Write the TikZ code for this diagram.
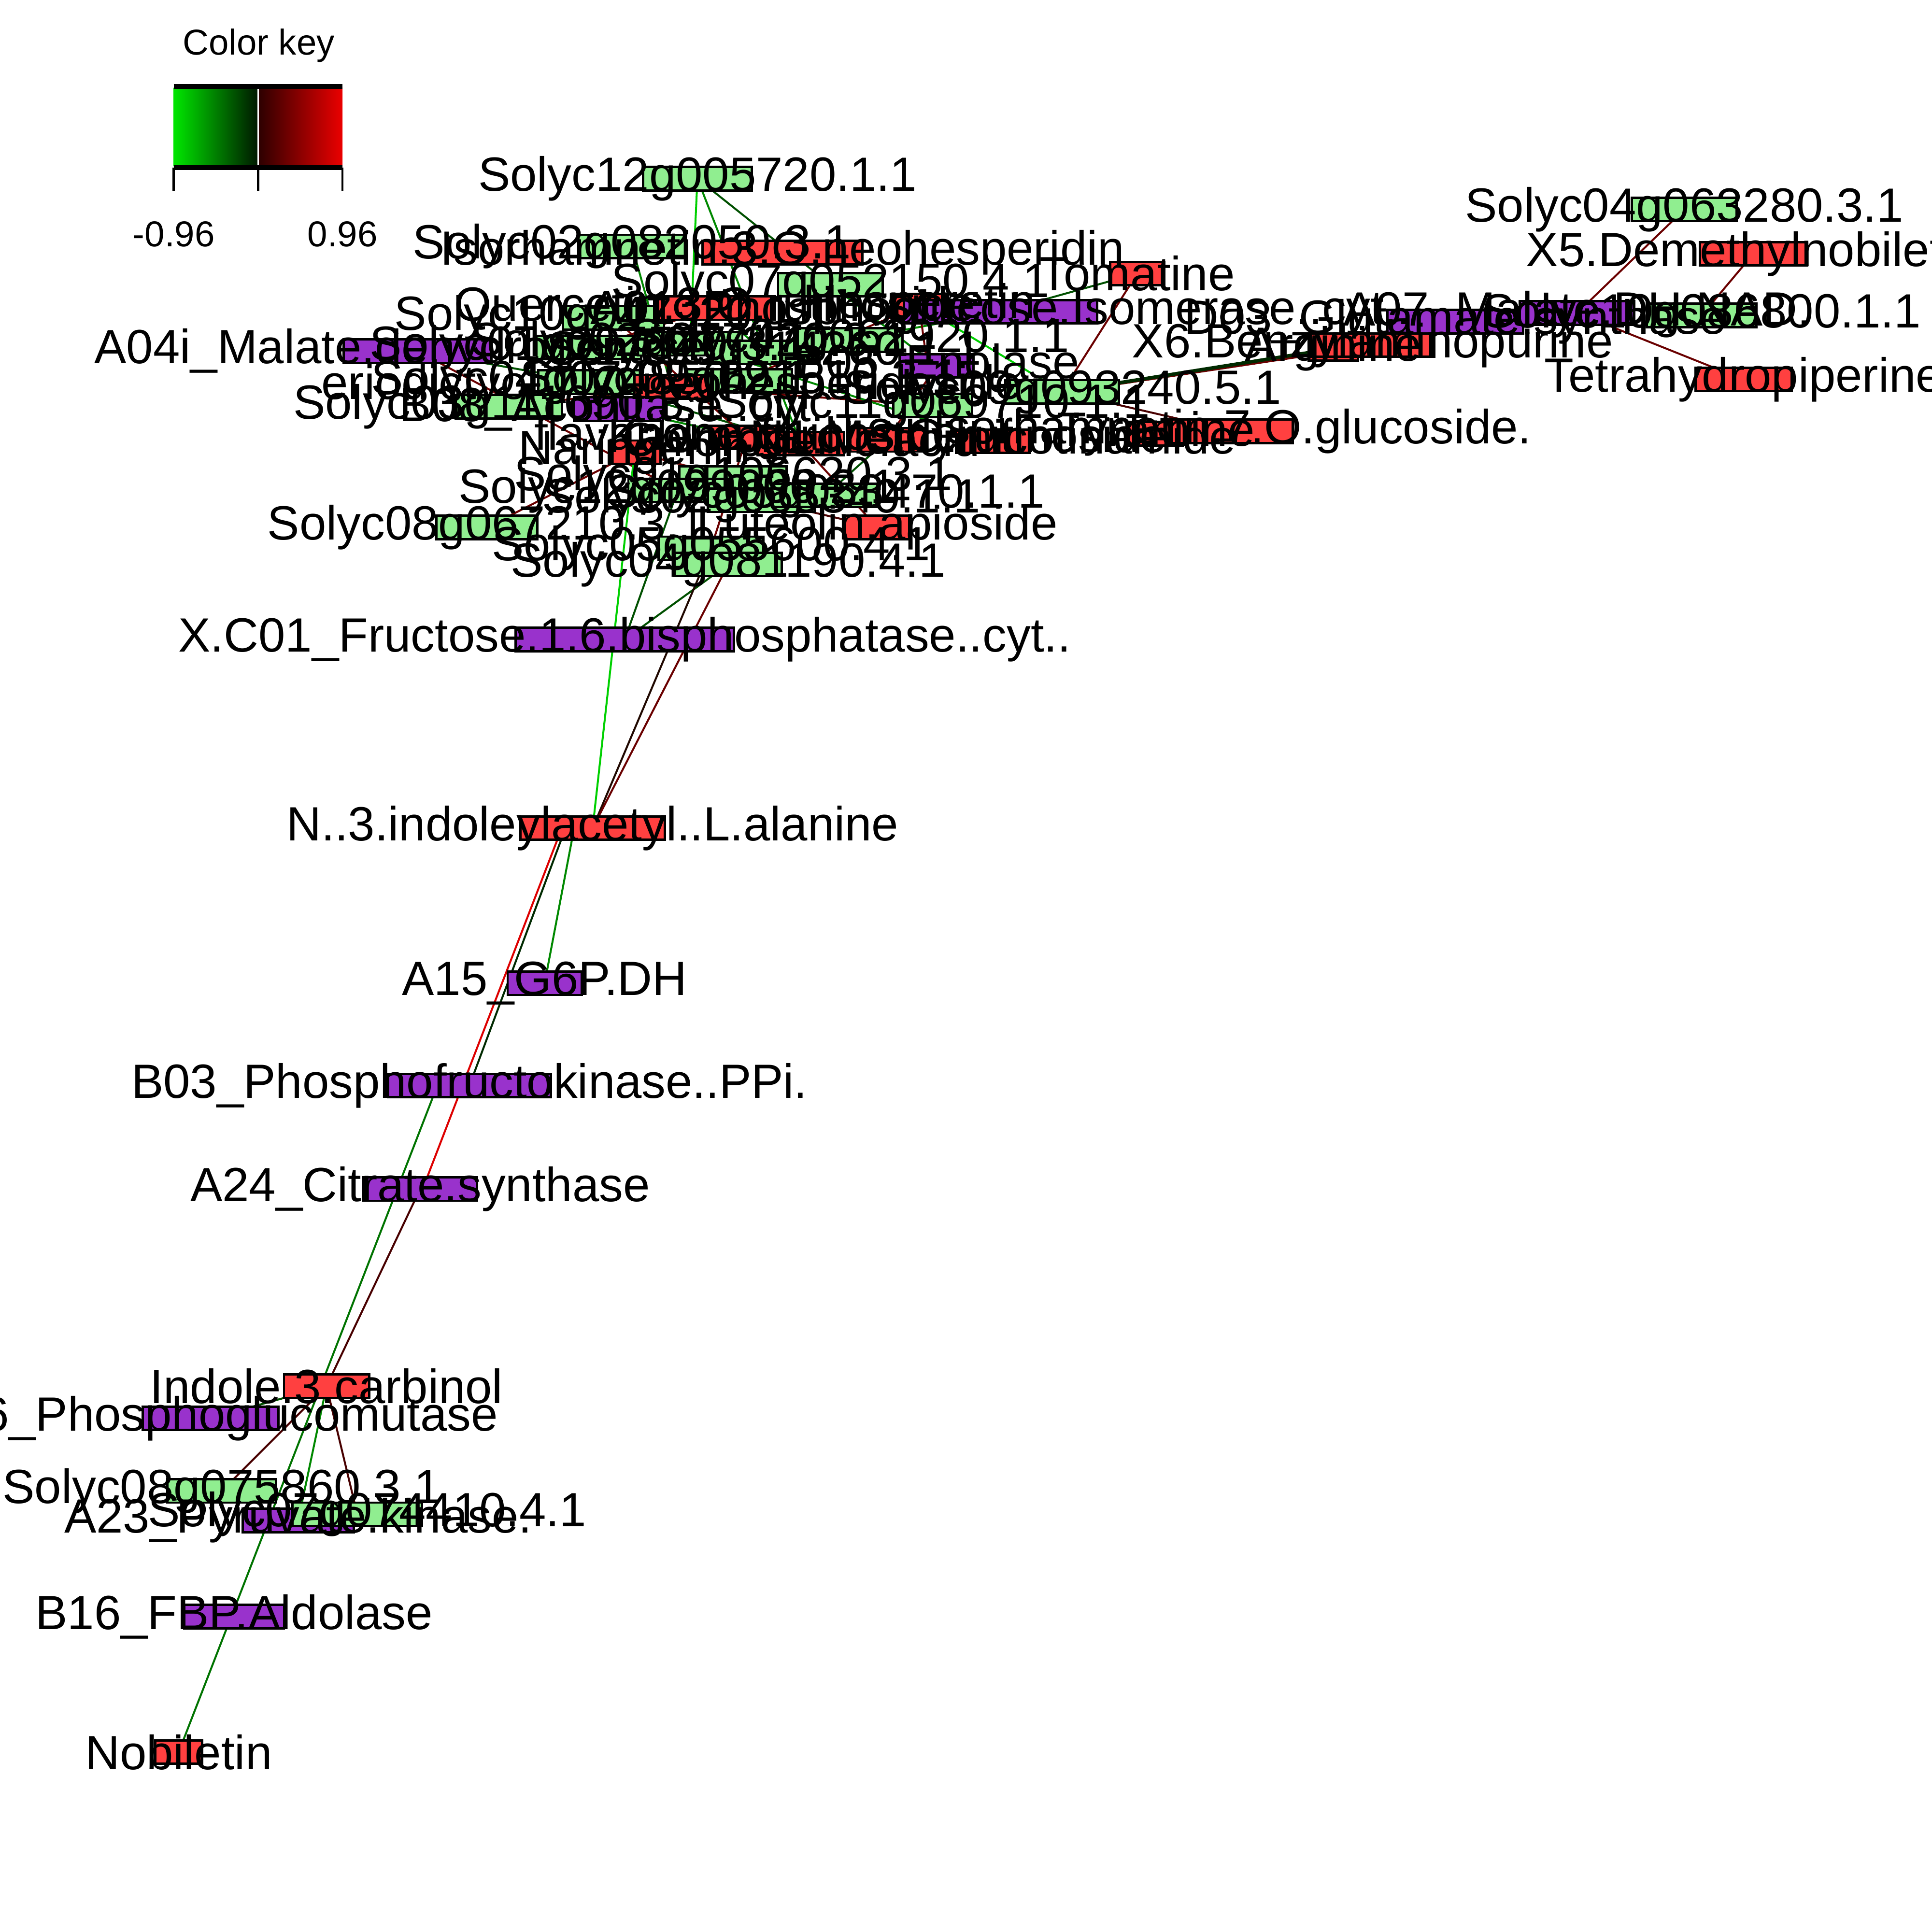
\documentclass[tikz,border=0pt]{standalone}
\usepackage{fontspec}
\setmainfont{Liberation Sans}
\pgfdeclarelayer{bg}\pgfdeclarelayer{fg}\pgfsetlayers{bg,main,fg}
\definecolor{ngreen}{HTML}{90EE90}
\definecolor{nred}{HTML}{FF4040}
\definecolor{npurp}{HTML}{9932CC}
\definecolor{ebg}{HTML}{00D000}
\definecolor{egr}{HTML}{008800}
\definecolor{edg}{HTML}{005000}
\definecolor{evd}{HTML}{002A00}
\definecolor{ebk}{HTML}{200800}
\definecolor{edr}{HTML}{6A0000}
\definecolor{evr}{HTML}{480000}
\definecolor{erd}{HTML}{DD0000}
\definecolor{ckga}{RGB}{0,230,0}
\definecolor{ckgb}{RGB}{0,25,0}
\definecolor{ckra}{RGB}{45,0,0}
\definecolor{ckrb}{RGB}{235,0,0}
\tikzset{
 box/.style={draw=black,line width=0.55pt,inner sep=0pt,outer sep=0pt,minimum height=1.9mm},
 gbox/.style={box,fill=ngreen},
 rbox/.style={box,fill=nred},
 pbox/.style={box,fill=npurp},
 lbl/.style={inner sep=0pt,font=\fontsize{11.1pt}{13pt}\selectfont,text=black},
 keylbl/.style={inner sep=0pt,font=\fontsize{8.3pt}{10pt}\selectfont,text=black},
 edge/.style={line width=0.45pt},
}
% name, x, y, box width, style, label
\newcommand{\nd}[6]{\node[#5,minimum width=#4*0.1mm] (#1) at (#2,#3) {};\begin{pgfonlayer}{fg}\node[lbl] (#1t) at (#2,#3) {#6};\end{pgfonlayer}}
% same, with label shifted horizontally by #7
\newcommand{\ndl}[7]{\node[#5,minimum width=#4*0.1mm] (#1) at (#2,#3) {};\begin{pgfonlayer}{fg}\node[lbl] (#1t) at (#2+#7,#3) {#6};\end{pgfonlayer}}
\newcommand{\ed}[3]{\draw[edge,#1] (#2.center) -- (#3.center);}
\begin{document}
\begin{tikzpicture}[x=0.1mm,y=-0.1mm]
\useasboundingbox (0,0) rectangle (1568,1568);
\begin{pgfonlayer}{bg}
\fill[white] (0,0) rectangle (1568,1568);
\end{pgfonlayer}
% ---- color key
\node[keylbl] (cktitle) at (210,37) {Color key};
\shade[left color=ckga,right color=ckgb] (141,71) rectangle (209,135);
\shade[left color=ckra,right color=ckrb] (210,71) rectangle (278,135);
\draw[white,line width=0.4pt] (209.5,71) -- (209.5,135);
\draw[line width=1.1pt] (141,70) -- (278,70);
\draw[line width=1.1pt] (141,136) -- (278,136);
\draw[line width=0.5pt] (141,136) -- (141,155);
\draw[line width=0.5pt] (209.5,136) -- (209.5,155);
\draw[line width=0.5pt] (278,136) -- (278,155);
\node[keylbl] (ckmin) at (141,190) {-0.96};
\node[keylbl] (ckmax) at (278,190) {0.96};
% ---- nodes (upper)
\nd{sA}{566}{145}{88}{gbox}{Solyc12g005720.1.1}
\nd{sB}{513}{200}{87}{gbox}{Solyc02g082050.3.1}
\nd{isoN}{635}{205}{130}{rbox}{Isorhamnetin.3.O.neohesperidin}
\nd{sC}{674}{231}{85}{gbox}{Solyc07g052150.4.1}
\nd{toma}{923}{222}{44}{rbox}{Tomatine}
\nd{sD}{498}{258}{82}{gbox}{Solyc10g047920.1.1}
\nd{quer}{580}{250}{98}{rbox}{Quercetin.3.O.rutinoside}
\nd{hesp}{746}{248}{46}{rbox}{Hesperetin}
\nd{pgi}{812}{253}{157}{pbox}{A01\_Phosphoglucose.Isomerase..cyt..}
\nd{gB}{478}{282}{85}{gbox}{Solyc01g097540.3.1}
\nd{gC}{560}{279}{85}{gbox}{Solyc02g077420.3.1}
\nd{gE}{620}{286}{85}{gbox}{Solyc03g114260.1.1}
\nd{gD}{690}{276}{85}{gbox}{Solyc07g062920.1.1}
\ndl{aMal}{339}{285}{120}{pbox}{A04i\_Malate.dehydrogenase}{-14}
\nd{pEno}{760}{297}{60}{pbox}{B05\_Enolase}
\nd{gF}{479}{310}{84}{gbox}{Solyc04g074850.2.1}
\nd{gG}{600}{309}{85}{gbox}{Solyc09g091510.3.1}
\nd{rEri}{545}{314}{60}{rbox}{eriodictyol.7.O.neohesperidoside}
\nd{gH}{413}{330}{86}{gbox}{Solyc03g111690.3.1}
\nd{pAco}{502}{332}{72}{pbox}{B08\_Aconitase..cyt..}
\nd{gI}{757}{329}{64}{gbox}{Solyc11g069710.1.1}
\nd{sE}{862}{318}{92}{gbox}{Solyc09g093240.5.1}
\nd{rNar}{515}{367}{42}{rbox}{Naringenin}
\nd{rFla}{606}{355}{60}{rbox}{flavanone.glucoside}
\nd{rChl}{650}{360}{70}{rbox}{Chlorogenic.acid}
\nd{rKae}{720}{357}{60}{rbox}{Kaempferol.3.O.rutinoside}
\nd{rNmn}{806}{358}{60}{rbox}{N1.Methylnicotinamide}
\nd{rTyr}{938}{352}{44}{rbox}{Tyramine}
\nd{rGlu}{1000}{350}{98}{rbox}{Isorhamnetin.7.O.glucoside.}
\nd{gK}{595}{388}{87}{gbox}{Solyc01g106620.3.1}
\nd{gN}{550}{398}{80}{gbox}{Solyc12g099000.2.1}
\nd{gL}{618}{406}{87}{gbox}{Solyc02g065340.1.1}
\nd{gM}{670}{402}{87}{gbox}{Solyc05g053470.1.1}
\nd{rApi}{712}{428}{52}{rbox}{Luteolin.apioside}
\nd{sF}{395}{428}{82}{gbox}{Solyc08g067210.3.1}
\nd{sG}{577}{445}{85}{gbox}{Solyc05g055600.4.1}
\nd{sH}{591}{458}{87}{gbox}{Solyc04g081190.4.1}
% ---- right group
\nd{argi}{1082}{283}{40}{rbox}{Arginine}
\nd{xSix}{1114}{280}{100}{rbox}{X6.Benzylaminopurine}
\nd{dGlu}{1181}{261}{110}{pbox}{D03\_Glutamate.synthase}
\nd{aSev}{1280}{254}{93}{pbox}{A07\_Malate.DH.NAD.}
\nd{sI}{1381}{256}{89}{gbox}{Solyc10g086800.1.1}
\nd{sJ}{1367}{170}{85}{gbox}{Solyc04g063280.3.1}
\nd{xFiv}{1423}{206}{87}{rbox}{X5.Demethylnobiletin}
\nd{thp}{1415}{308}{78}{rbox}{Tetrahydropiperine}
% ---- lower chain
\nd{xcO}{507}{519}{177}{pbox}{X.C01\_Fructose.1.6.bisphosphatase..cyt..}
\nd{nIA}{481}{672}{117}{rbox}{N..3.indoleylacetyl..L.alanine}
\nd{aFif}{442}{798}{60}{pbox}{A15\_G6P.DH}
\nd{bPfk}{381}{881}{132}{pbox}{B03\_Phosphofructokinase..PPi.}
\nd{aCit}{341}{965}{92}{pbox}{A24\_Citrate.synthase}
\nd{iCar}{265}{1125}{69}{rbox}{Indole.3.carbinol}
\nd{bPgm}{171}{1151}{110}{pbox}{B06\_Phosphoglucomutase}
\nd{sK}{180}{1210}{88}{gbox}{Solyc08g075860.3.1}
\nd{aPyr}{242}{1234}{90}{pbox}{A23\_Pyruvate.kinase.}
\ndl{sL}{290}{1229}{105}{gbox}{Solyc07g074410.4.1}{8}
\nd{bAld}{190}{1312}{81}{pbox}{B16\_FBP.Aldolase}
\nd{nobi}{145}{1422}{38}{rbox}{Nobiletin}
% ---- edges
\begin{pgfonlayer}{bg}
\ed{edg}{sA}{sC}
\ed{ebg}{sA}{gC}
\ed{egr}{sA}{rChl}
\ed{egr}{sB}{rEri}
\ed{edg}{toma}{pgi}
\ed{edr}{toma}{sE}
\ed{ebg}{sE}{hesp}
\ed{edr,line width=0.8pt}{sE}{xSix}
\ed{evd,line width=0.8pt}{sE}{argi}
\ed{evr}{sE}{rGlu}
\ed{edr}{aSev}{sJ}
\ed{edr}{sI}{xFiv}
\ed{edr}{aSev}{thp}
\ed{edg}{aMal}{gF}
\ed{edr}{aMal}{gN}
\ed{edr}{sF}{rNar}
\ed{egr}{sC}{pEno}
\ed{edr}{gB}{quer}
\ed{edr}{gG}{hesp}
\ed{egr}{pAco}{rFla}
\ed{edr}{rEri}{gI}
\ed{edg}{gF}{rChl}
\ed{egr}{quer}{gE}
\ed{edr}{rNar}{gK}
\ed{edr}{rFla}{sG}
\ed{edr}{pEno}{rKae}
\ed{egr}{gC}{rNmn}
\ed{edr}{gH}{rEri}
\ed{edr}{rApi}{rChl}
\ed{egr}{pgi}{gD}
\ed{edr}{sD}{rFla}
\ed{edr}{hesp}{gI}
\ed{edg}{gM}{rKae}
\ed{evr}{gL}{rApi}
% lower
\ed{edg}{xcO}{sH}
\ed{edg}{xcO}{gN}
\ed{ebg}{nIA}{rNar}
\ed{ebk}{nIA}{sG}
\ed{edr}{nIA}{sH}
\draw[edge,erd] ([xshift=-2.5mm]nIA.center) -- ([xshift=0.2mm]aCit.center);
\draw[edge,evd] ([xshift=-2.2mm]nIA.center) -- (bPfk.center);
\draw[edge,egr] ([xshift=-1.5mm]nIA.center) -- (aFif.center);
\draw[edge,color=green!45!black] ([xshift=-2.6mm]bPfk.center) -- (nobi.center);
\ed{evr}{aCit}{iCar}
\ed{evr}{iCar}{sK}
\ed{evr}{iCar}{sL}
\ed{egr}{iCar}{aPyr}
\ed{edg}{iCar}{bPgm}
\end{pgfonlayer}
\end{tikzpicture}
\end{document}
